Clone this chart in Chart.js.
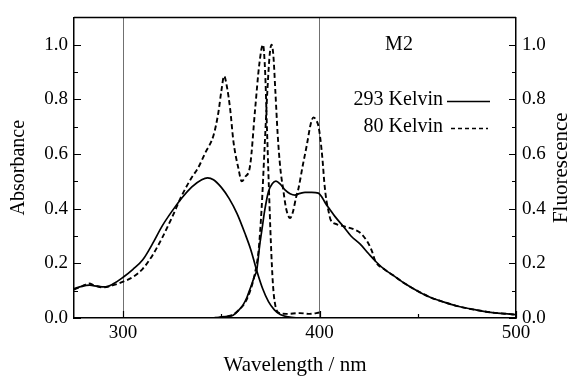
<!DOCTYPE html>
<html>
<head>
<meta charset="utf-8">
<script src="https://cdn.jsdelivr.net/npm/chart.js@4/dist/chart.umd.min.js"></script>
<style>
  html, body { margin: 0; padding: 0; background: #fff; }
  #wrap { width: 571px; height: 378px; }
</style>
</head>
<body>
<div id="wrap"><canvas id="c" width="571" height="378"></canvas></div>
<script>
// Absorbance at 293 K (left axis)
const abs293Nm = [275, 279, 283, 287, 291, 295, 300, 305, 310, 315, 320, 325, 330, 335, 340, 343, 346, 350, 354, 358, 362, 365, 368, 371, 374, 377, 380, 384, 390];
const abs293   = [0.107, 0.116, 0.12, 0.116, 0.114, 0.125, 0.149, 0.178, 0.213, 0.272, 0.338, 0.392, 0.44, 0.48, 0.506, 0.513, 0.506, 0.478, 0.437, 0.382, 0.31, 0.25, 0.174, 0.108, 0.06, 0.03, 0.013, 0.004, 0.0];

// Absorbance at 80 K (left axis)
const abs80Nm = [275, 279, 282.5, 286, 290, 295, 300, 305, 310, 315, 320, 325, 330, 335, 338, 342, 346, 348.5, 350, 351.4, 353, 354.5, 356.2, 358.7, 360.4, 362, 364.7, 367.2, 369.4, 371.2, 372.3, 373.2, 374.2, 375.2, 376.3, 377.5, 379, 383, 390, 395, 400];
const abs80   = [0.104, 0.116, 0.126, 0.118, 0.112, 0.12, 0.133, 0.15, 0.18, 0.23, 0.295, 0.37, 0.45, 0.515, 0.547, 0.607, 0.668, 0.752, 0.83, 0.885, 0.84, 0.764, 0.644, 0.547, 0.5, 0.515, 0.56, 0.764, 0.933, 1.0, 0.9, 0.7, 0.48, 0.28, 0.12, 0.045, 0.02, 0.015, 0.018, 0.015, 0.02];

// Fluorescence at 293 K (right axis)
const fl293Nm = [345, 350, 353, 356, 359, 361, 363, 364.7, 367, 368, 369.6, 371, 372, 374, 376, 377.8, 380, 382.4, 385, 387.5, 390, 392.6, 396, 399.4, 401, 403, 405, 408, 412, 416, 420.7, 425, 429, 433, 437.7, 443, 449.6, 456, 463, 471, 480, 488, 497, 500];
const fl293   = [0, 0.003, 0.006, 0.01, 0.03, 0.047, 0.075, 0.108, 0.155, 0.174, 0.27, 0.34, 0.39, 0.463, 0.492, 0.501, 0.49, 0.469, 0.455, 0.45, 0.456, 0.46, 0.46, 0.457, 0.445, 0.42, 0.40, 0.37, 0.336, 0.30, 0.27, 0.235, 0.204, 0.178, 0.155, 0.128, 0.10, 0.077, 0.059, 0.042, 0.029, 0.02, 0.014, 0.012];

// Fluorescence at 80 K (right axis)
const fl80Nm = [345, 352, 356, 359, 362, 364.7, 367, 369, 370.5, 372, 373.5, 374.7, 375.6, 376.5, 377.5, 378.7, 380, 381.5, 383, 385, 386.5, 388, 389.3, 391.5, 393.5, 395.5, 396.9, 398.2, 399.5, 400.5, 401.5, 402.5, 403.5, 404.6, 405.6, 408.8, 412.2, 417.3, 420.7, 424.1, 426.6, 428.3, 433, 437.7, 443, 449.6, 456, 463, 471, 480, 488, 497, 500];
const fl80   = [0, 0.005, 0.012, 0.03, 0.055, 0.1, 0.16, 0.25, 0.4, 0.62, 0.84, 0.97, 1.0, 0.96, 0.83, 0.67, 0.55, 0.47, 0.4, 0.366, 0.39, 0.44, 0.475, 0.56, 0.632, 0.71, 0.734, 0.725, 0.70, 0.65, 0.58, 0.49, 0.43, 0.39, 0.36, 0.343, 0.336, 0.325, 0.312, 0.282, 0.246, 0.21, 0.178, 0.155, 0.128, 0.10, 0.077, 0.059, 0.042, 0.029, 0.02, 0.014, 0.012];

// Axis ticks
const xTicks = [300, 400, 500];
const xTickMarks = [300, 350, 400, 450, 500];
const yTicks = [0, 0.2, 0.4, 0.6, 0.8, 1.0];
const yTickMarks = [0, 0.1, 0.2, 0.3, 0.4, 0.5, 0.6, 0.7, 0.8, 0.9, 1.0];
const guideLines = [300, 400];

const SERIF = "'Liberation Serif', 'DejaVu Serif', serif";

const toPoints = (xs, ys) => xs.map((x, i) => ({ x, y: ys[i] }));

// Inward tick marks, top frame line, right-hand title, sample label and key
const decorations = {
  id: 'decorations',
  afterDraw(chart) {
    const { ctx, chartArea: a, scales } = chart;
    ctx.save();
    ctx.strokeStyle = '#000';
    ctx.lineWidth = 1.5;
    ctx.beginPath();
    ctx.moveTo(a.left, a.top);
    ctx.lineTo(a.right, a.top);
    ctx.stroke();

    ctx.lineWidth = 1.2;
    ctx.beginPath();
    xTickMarks.forEach(v => {
      const px = Math.round(scales.x.getPixelForValue(v)) + 0.5;
      const len = xTicks.includes(v) ? 7 : 4;
      ctx.moveTo(px, a.bottom);
      ctx.lineTo(px, a.bottom - len);
    });
    yTickMarks.forEach(v => {
      const len = yTicks.includes(v) ? 7 : 4;
      const py = Math.round(scales.y.getPixelForValue(v)) + 0.5;
      ctx.moveTo(a.left, py);
      ctx.lineTo(a.left + len, py);
      const py1 = Math.round(scales.y1.getPixelForValue(v)) + 0.5;
      ctx.moveTo(a.right, py1);
      ctx.lineTo(a.right - len, py1);
    });
    ctx.stroke();

    ctx.fillStyle = '#000';
    // right axis title, reading upward like the left one
    ctx.save();
    ctx.translate(561, (a.top + a.bottom) / 2);
    ctx.rotate(-Math.PI / 2);
    ctx.font = '21px ' + SERIF;
    ctx.textAlign = 'center';
    ctx.textBaseline = 'middle';
    ctx.fillText('Fluorescence', 0, 0);
    ctx.restore();

    // sample name
    ctx.font = '20px ' + SERIF;
    ctx.textAlign = 'center';
    ctx.textBaseline = 'middle';
    ctx.fillText('M2', 399, 45);

    // key
    ctx.textAlign = 'right';
    ctx.fillText('293 Kelvin', 443, 100);
    ctx.fillText('80 Kelvin', 443, 127);
    ctx.lineWidth = 1.5;
    ctx.beginPath();
    ctx.moveTo(447, 101.5);
    ctx.lineTo(490, 101.5);
    ctx.stroke();
    ctx.setLineDash([4, 3]);
    ctx.beginPath();
    ctx.moveTo(451, 128.5);
    ctx.lineTo(488, 128.5);
    ctx.stroke();
    ctx.restore();
  }
};

const solid = { borderColor: '#000', borderWidth: 1.7, pointRadius: 0, fill: false, cubicInterpolationMode: 'monotone' };
const dashed = { borderColor: '#000', borderWidth: 1.9, borderDash: [5, 3], pointRadius: 0, fill: false, cubicInterpolationMode: 'monotone' };

const tickFont = { family: SERIF, size: 19 };

new Chart(document.getElementById('c'), {
  type: 'line',
  data: {
    datasets: [
      Object.assign({ label: '293 Kelvin absorbance', data: toPoints(abs293Nm, abs293), yAxisID: 'y' }, solid),
      Object.assign({ label: '80 Kelvin absorbance', data: toPoints(abs80Nm, abs80), yAxisID: 'y' }, dashed),
      Object.assign({ label: '293 Kelvin fluorescence', data: toPoints(fl293Nm, fl293), yAxisID: 'y1' }, solid),
      Object.assign({ label: '80 Kelvin fluorescence', data: toPoints(fl80Nm, fl80), yAxisID: 'y1' }, dashed)
    ]
  },
  options: {
    responsive: false,
    animation: false,
    layout: { padding: { top: 13, left: 0, right: 0, bottom: 0 } },
    plugins: { legend: { display: false }, tooltip: { enabled: false } },
    scales: {
      x: {
        type: 'linear',
        position: 'bottom',
        min: 275,
        max: 500,
        afterBuildTicks: s => { s.ticks = xTicks.map(v => ({ value: v })); },
        afterFit: s => { s.height = 60; },
        grid: {
          drawTicks: false,
          lineWidth: 1,
          color: c => (c.tick && guideLines.includes(c.tick.value)) ? '#707070' : 'rgba(0,0,0,0)'
        },
        border: { display: true, color: '#000', width: 1.5 },
        ticks: { font: tickFont, color: '#000', padding: 4, maxRotation: 0, callback: v => String(v) },
        title: { display: true, text: 'Wavelength / nm', color: '#000', font: { family: SERIF, size: 21 }, padding: 0 }
      },
      y: {
        position: 'left',
        min: 0,
        max: 1.1,
        afterBuildTicks: s => { s.ticks = yTicks.map(v => ({ value: v })); },
        afterFit: s => { s.width = 74; },
        grid: { drawTicks: false, color: 'rgba(0,0,0,0)' },
        border: { display: true, color: '#000', width: 1.5 },
        ticks: { font: tickFont, color: '#000', padding: 6, callback: v => v.toFixed(1) },
        title: { display: true, text: 'Absorbance', color: '#000', font: { family: SERIF, size: 20 }, padding: { top: 7, bottom: 0 } }
      },
      y1: {
        position: 'right',
        min: 0,
        max: 1.1,
        afterBuildTicks: s => { s.ticks = yTicks.map(v => ({ value: v })); },
        afterFit: s => { s.width = 55; },
        grid: { drawTicks: false, color: 'rgba(0,0,0,0)' },
        border: { display: true, color: '#000', width: 1.5 },
        ticks: { font: tickFont, color: '#000', padding: 6, callback: v => v.toFixed(1) }
      }
    }
  },
  plugins: [decorations]
});
</script>
</body>
</html>
